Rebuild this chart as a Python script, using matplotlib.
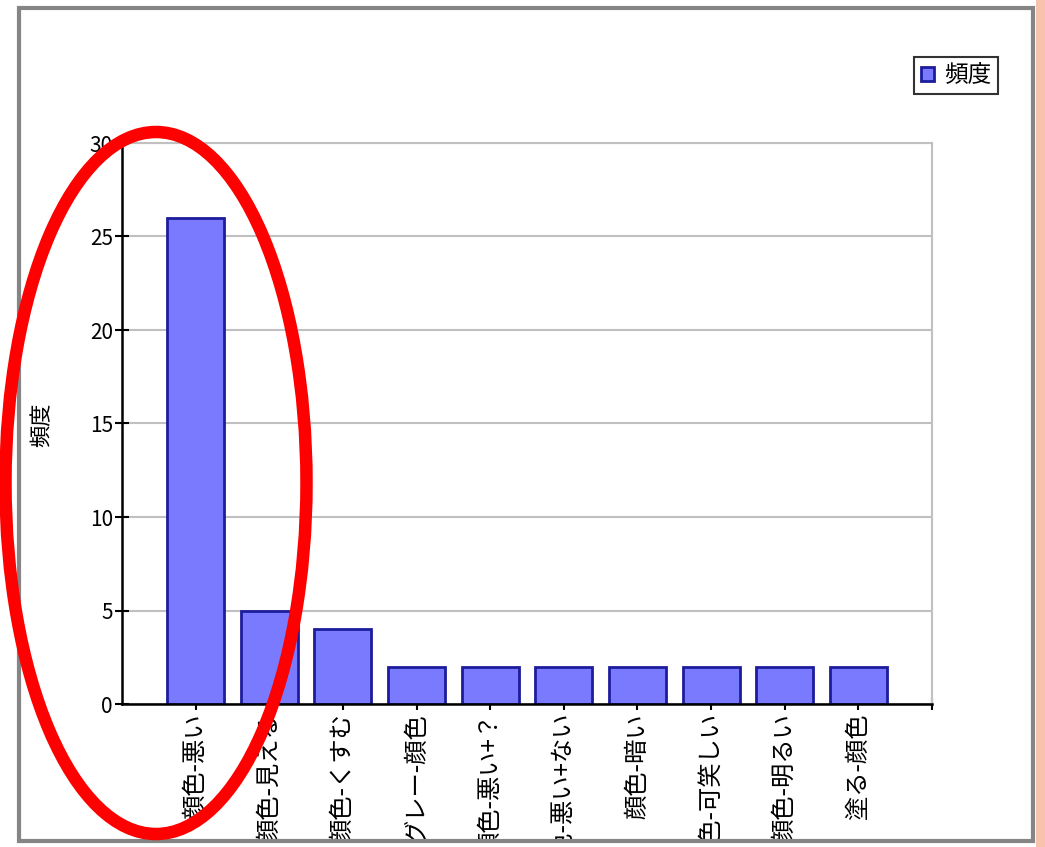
import matplotlib
matplotlib.use('Agg')
from matplotlib import pyplot as plt
from matplotlib.patches import Rectangle, Ellipse

plt.rcParams['font.family'] = ['Noto Sans CJK JP', 'DejaVu Sans']

# chart data
categories = ['顔色-悪い', '顔色-見える', '顔色-くすむ', 'グレー-顔色', '顔色-悪い+？',
              '顔色-悪い+ない', '顔色-暗い', '顔色-可笑しい', '顔色-明るい', '塗る-顔色']
counts = [26, 5, 4, 2, 2, 2, 2, 2, 2, 2]
yTicks = [0, 5, 10, 15, 20, 25, 30]
seriesName = '頻度'

W, H = 1045, 847
fig = plt.figure(figsize=(W / 100, H / 100), dpi=100)
fig.patch.set_facecolor('white')

def fx(px):
    return px / W

def fy(py):
    return 1 - py / H

ax = fig.add_axes([fx(122), fy(704), fx(932) - fx(122), fy(143) - fy(704)])

positions = list(range(1, len(categories) + 1))
ax.bar(positions, counts, width=0.775, color='#7a7aff', edgecolor='#1c1c9c',
       linewidth=2, label=seriesName, zorder=3)

ax.set_xlim(0, len(categories) + 1)
ax.set_ylim(0, 30)
ax.set_yticks(yTicks)
ax.set_xticks(positions + [len(categories) + 1])
ax.set_xticklabels(categories + [''], rotation=90, va='top', ha='center')

ax.tick_params(axis='y', direction='inout', length=10, width=1.5, pad=1.5,
               labelsize=15, colors='black')
ax.tick_params(axis='x', direction='inout', length=9, width=1.5, pad=2,
               labelsize=17.5, colors='black')

ax.yaxis.grid(True, color='#c0c0c0', linewidth=1.5, zorder=0)
ax.set_axisbelow(True)

for side in ['left', 'bottom']:
    ax.spines[side].set_color('black')
    ax.spines[side].set_linewidth(1.8)
    ax.spines[side].set_zorder(4)
for side in ['top', 'right']:
    ax.spines[side].set_color('#c0c0c0')
    ax.spines[side].set_linewidth(1.5)

fig.text(fx(42), fy(425), seriesName, rotation=90, ha='center', va='center', fontsize=16)

leg = ax.legend(loc='upper right', bbox_to_anchor=(fx(998), fy(57)),
                bbox_transform=fig.transFigure, borderaxespad=0, fontsize=17,
                fancybox=False, handlelength=0.55, handleheight=0.55,
                handletextpad=0.4, borderpad=0.3)
leg.get_frame().set_edgecolor('black')
leg.get_frame().set_linewidth(1.5)

# slide background on the right
fig.patches.append(Rectangle((fx(1036), 0), 1 - fx(1036), 1, transform=fig.transFigure,
                             facecolor='#f8c2ad', edgecolor='none', zorder=8))
# white strip below the frame hides the cut label ends
fig.patches.append(Rectangle((0, 0), fx(1036), fy(840), transform=fig.transFigure,
                             facecolor='white', edgecolor='none', zorder=9))
# gray outer frame
fig.patches.append(Rectangle((fx(19), fy(841)), fx(1033) - fx(19), fy(8) - fy(841),
                             transform=fig.transFigure, facecolor='none',
                             edgecolor='#858585', linewidth=3, zorder=10))
# red circle annotation
fig.patches.append(Ellipse((fx(156), fy(483)), fx(301), 702 / H, transform=fig.transFigure,
                           facecolor='none', edgecolor='#ff0000', linewidth=9, zorder=11))

plt.savefig('out.png', dpi=100)
